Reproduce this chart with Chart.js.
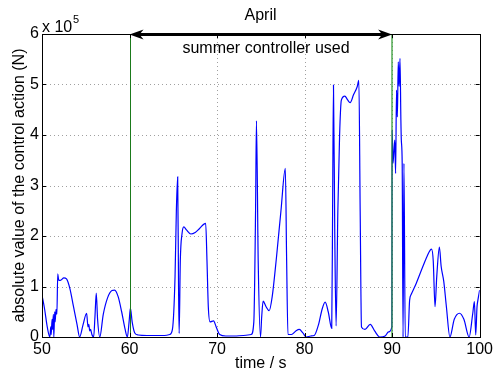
<!DOCTYPE html>
<html>
<head>
<meta charset="utf-8">
<script src="https://cdn.jsdelivr.net/npm/chart.js@4.4.1/dist/chart.umd.min.js"></script>
<style>
  html, body { margin: 0; padding: 0; background: #fff; }
  #wrap { width: 496px; height: 372px; }
</style>
</head>
<body>
<div id="wrap"><canvas id="chart" width="496" height="372"></canvas></div>
<script>
// time (s) and |control action| in units of 1e5 N
const timeS = [50.0, 50.3, 50.6, 50.9, 51.0, 51.05, 51.15, 51.2, 51.3, 51.35, 51.45, 51.5, 51.6, 51.7, 51.8, 51.9,
    52.1, 52.5, 52.8, 53.2, 53.6, 54.0, 54.3, 54.7, 55.1, 55.25, 55.35, 55.45, 55.55, 55.7, 55.9, 56.05, 56.2, 56.35,
    56.6, 57.0, 57.5, 58.0, 58.3, 58.7, 59.1, 59.5, 59.75, 59.95, 60.1, 60.3, 60.6, 61.0, 62.0, 63.0, 64.0, 64.6,
    64.9, 65.2, 65.35, 65.5, 65.6, 65.67, 65.8, 66.0, 66.2, 66.5, 67.0, 67.5, 68.0, 68.7, 68.85, 69.0, 69.2, 69.6,
    69.9, 70.3, 71.0, 72.0, 73.0, 73.9, 74.2, 74.4, 74.5, 74.7, 74.96, 75.1, 75.26, 75.6, 75.95, 76.3, 76.8, 77.3,
    77.8, 77.95, 78.1, 78.5, 79.0, 79.4, 79.8, 80.2, 80.7, 81.1, 81.6, 82.0, 82.35, 82.7, 83.1, 83.2, 83.3, 83.45,
    83.6, 83.8, 84.0, 84.2, 84.6, 84.9, 85.2, 85.6, 86.0, 86.2, 86.35, 86.5, 86.9, 87.5, 88.0, 88.6, 89.2, 89.6,
    89.97, 90.0, 90.1, 90.3, 90.4, 90.5, 90.6, 90.7, 90.8, 90.9, 91.0, 91.05, 91.15, 91.25, 91.35, 91.5, 91.8,
    92.0, 92.2, 92.75, 93.5, 94.0, 94.5, 94.7, 94.9, 95.1, 95.4, 95.6, 95.9, 96.2, 96.6, 97.1, 97.7, 98.2, 98.8,
    99.2, 99.4, 99.55, 99.7, 99.8, 100.0];
const actionE5 = [0.83, 0.55, 0.2, 0.0, 0.2, 0.05, 0.35, 0.15, 0.45, 0.0, 0.5, 0.3, 0.55, 0.45, 1.25, 1.13,
    1.12, 1.17, 1.15, 0.95, 0.6, 0.25, 0.0, 0.25, 0.47, 0.2, 0.25, 0.12, 0.15, 0.05, 0.0, 0.4, 0.87, 0.35,
    0.0, 0.45, 0.78, 0.92, 0.93, 0.8, 0.5, 0.15, 0.0, 0.3, 0.57, 0.3, 0.08, 0.04, 0.03, 0.03, 0.03, 0.05,
    0.15, 1.2, 2.5, 3.17, 1.0, 0.07, 1.5, 2.05, 2.18, 2.12, 2.04, 2.07, 2.15, 2.25, 1.5, 0.6, 0.3, 0.32,
    0.2, 0.05, 0.02, 0.02, 0.03, 0.05, 0.3, 2.5, 4.28, 1.5, 0.0, 0.4, 0.71, 0.6, 0.52, 0.8, 1.6, 2.5,
    3.34, 1.5, 0.05, 0.05, 0.12, 0.15, 0.08, 0.0, 0.02, 0.03, 0.25, 0.55, 0.69, 0.5, 0.17, 2.5, 4.99, 2.0,
    0.22, 2.5, 4.0, 4.69, 4.77, 4.7, 4.64, 4.8, 4.95, 5.08, 2.5, 0.2, 0.15, 0.25, 0.12, 0.0, 0.02, 0.1,
    0.2, 4.1, 3.44, 3.9, 3.24, 4.89, 4.36, 5.45, 4.96, 5.52, 4.3, 3.9, 3.44, 0.0, 3.44, 0.0, 0.0,
    0.73, 0.85, 1.06, 1.39, 1.6, 1.74, 1.5, 0.6, 1.2, 1.78, 1.4, 1.1, 0.6, 0.0, 0.35, 0.47, 0.35, 0.0,
    0.45, 0.7, 0.04, 0.6, 0.73, 0.93];

const xTicks = [50, 60, 70, 80, 90, 100];
const yTicks = [0, 1, 2, 3, 4, 5, 6];
const controllerStart = 60;
const controllerEnd = 90;
const monthLabel = 'April';
const controllerLabel = 'summer controller used';

const FONT = '"Liberation Sans", Arial, Helvetica, sans-serif';

const points = timeS.map((t, i) => ({ x: t, y: actionE5[i] }));

const gridPlugin = {
    id: 'dottedGrid',
    beforeDatasetsDraw(chart) {
        const { ctx, chartArea: a, scales: { x, y } } = chart;
        ctx.save();
        ctx.strokeStyle = '#a0a0a0';
        ctx.lineWidth = 1;
        ctx.setLineDash([1, 3]);
        xTicks.slice(1, -1).forEach(v => {
            const px = Math.round(x.getPixelForValue(v)) + 0.5;
            ctx.beginPath(); ctx.moveTo(px, a.top); ctx.lineTo(px, a.bottom); ctx.stroke();
        });
        yTicks.slice(1, -1).forEach(v => {
            const py = Math.round(y.getPixelForValue(v)) + 0.5;
            ctx.beginPath(); ctx.moveTo(a.left, py); ctx.lineTo(a.right, py); ctx.stroke();
        });
        ctx.restore();
    }
};

function arrowHead(ctx, tipX, tipY, dir) {
    // concave arrow head, dir = -1 points left, 1 points right
    const len = 14, half = 5, back = 4;
    ctx.beginPath();
    ctx.moveTo(tipX, tipY);
    ctx.lineTo(tipX - dir * len, tipY - half);
    ctx.lineTo(tipX - dir * (len - back), tipY);
    ctx.lineTo(tipX - dir * len, tipY + half);
    ctx.closePath();
    ctx.fill();
}

const overlayPlugin = {
    id: 'overlay',
    afterDatasetsDraw(chart) {
        const { ctx, chartArea: a, scales: { x, y } } = chart;
        ctx.save();

        // marker lines
        const x60 = Math.round(x.getPixelForValue(controllerStart)) + 0.5;
        ctx.strokeStyle = '#1b7a1b';
        ctx.lineWidth = 1;
        ctx.beginPath(); ctx.moveTo(x60, a.top); ctx.lineTo(x60, a.bottom); ctx.stroke();
        const x90 = Math.round(x.getPixelForValue(controllerEnd));
        ctx.strokeStyle = 'rgba(40,150,40,0.6)';
        ctx.lineWidth = 2;
        ctx.beginPath(); ctx.moveTo(x90, a.top); ctx.lineTo(x90, a.bottom); ctx.stroke();

        // box
        ctx.strokeStyle = '#000';
        ctx.lineWidth = 1;
        ctx.strokeRect(Math.round(a.left) + 0.5, Math.round(a.top) + 0.5,
            Math.round(a.right - a.left), Math.round(a.bottom - a.top));

        // inward ticks
        const tl = 4;
        ctx.beginPath();
        xTicks.forEach(v => {
            const px = Math.round(x.getPixelForValue(v)) + 0.5;
            ctx.moveTo(px, a.bottom); ctx.lineTo(px, a.bottom - tl);
            ctx.moveTo(px, a.top); ctx.lineTo(px, a.top + tl);
        });
        yTicks.forEach(v => {
            const py = Math.round(y.getPixelForValue(v)) + 0.5;
            ctx.moveTo(a.left, py); ctx.lineTo(a.left + tl, py);
            ctx.moveTo(a.right, py); ctx.lineTo(a.right - tl, py);
        });
        ctx.stroke();

        // arrow across the controller period
        const ax0 = x.getPixelForValue(controllerStart);
        const ax1 = x.getPixelForValue(controllerEnd);
        const ay = Math.round(y.getPixelForValue(6)) + 0.5;
        ctx.fillStyle = '#000';
        ctx.lineWidth = 3;
        ctx.beginPath(); ctx.moveTo(ax0 + 8, ay); ctx.lineTo(ax1 - 8, ay); ctx.stroke();
        arrowHead(ctx, ax0, ay, -1);
        arrowHead(ctx, ax1, ay, 1);

        // texts
        ctx.font = '16px ' + FONT;
        ctx.textBaseline = 'middle';
        ctx.textAlign = 'center';
        ctx.fillText(monthLabel, 260.5, 16);
        ctx.fillText(controllerLabel, 266, 49);

        // exponent label
        ctx.textAlign = 'left';
        ctx.textBaseline = 'alphabetic';
        ctx.fillText('x 10', a.left, 32);
        ctx.font = '11px ' + FONT;
        ctx.fillText('5', a.left + 31, 23);
        ctx.restore();
    }
};

new Chart(document.getElementById('chart'), {
    type: 'scatter',
    data: {
        datasets: [{
            data: points,
            showLine: true,
            borderColor: '#0000ff',
            borderWidth: 1.2,
            pointRadius: 0,
            cubicInterpolationMode: 'monotone',
            fill: false
        }]
    },
    options: {
        responsive: false,
        animation: false,
        layout: { padding: { top: 34, right: 16, left: 0, bottom: 0 } },
        plugins: { legend: { display: false }, tooltip: { enabled: false } },
        scales: {
            x: {
                type: 'linear', min: 50, max: 100,
                afterFit(s) { s.height = 35; },
                afterBuildTicks(s) { s.ticks = xTicks.map(v => ({ value: v })); },
                grid: { display: false, drawTicks: false },
                border: { display: false },
                ticks: { color: '#000', font: { family: FONT, size: 16 }, padding: 3 },
                title: { display: true, text: 'time / s', color: '#000',
                    font: { family: FONT, size: 16, lineHeight: 1 }, padding: 0 }
            },
            y: {
                type: 'linear', min: 0, max: 6,
                afterFit(s) { s.width = 42; },
                afterBuildTicks(s) { s.ticks = yTicks.map(v => ({ value: v })); },
                grid: { display: false, drawTicks: false },
                border: { display: false },
                ticks: { color: '#000', font: { family: FONT, size: 16 }, padding: 3 },
                title: { display: true, text: 'absolute value of the control action (N)', color: '#000',
                    font: { family: FONT, size: 16, lineHeight: 1 }, padding: { top: 12, bottom: 0 } }
            }
        }
    },
    plugins: [gridPlugin, overlayPlugin]
});
</script>
</body>
</html>
